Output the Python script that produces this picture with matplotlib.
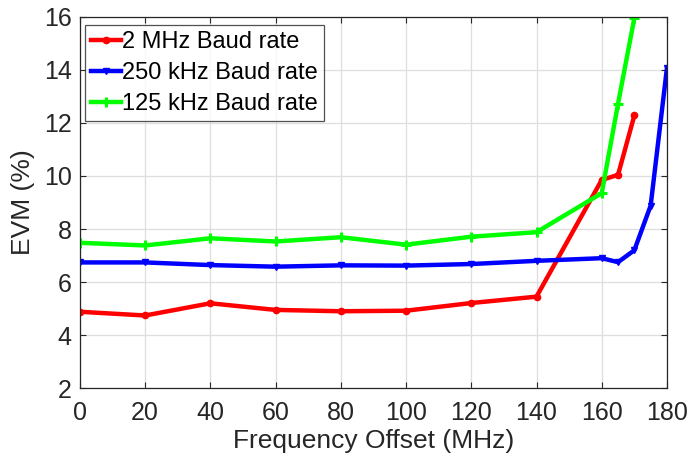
import matplotlib
matplotlib.use("Agg")
import matplotlib.pyplot as plt

plt.rcParams['font.family'] = ['Liberation Sans', 'DejaVu Sans']

# Frequency offsets (MHz) for each measurement series
x_2mhz = [0, 20, 40, 60, 80, 100, 120, 140, 160, 165, 170]
evm_2mhz = [4.88, 4.74, 5.2, 4.95, 4.9, 4.92, 5.21, 5.45, 9.85, 10.04, 12.28]

x_250k = [0, 20, 40, 60, 80, 100, 120, 140, 160, 165, 170, 175, 180]
evm_250k = [6.74, 6.74, 6.64, 6.58, 6.63, 6.62, 6.68, 6.8, 6.9, 6.75, 7.2, 8.88, 14.07]

x_125k = [0, 20, 40, 60, 80, 100, 120, 140, 160, 165, 170]
evm_125k = [7.48, 7.38, 7.65, 7.53, 7.69, 7.41, 7.71, 7.88, 9.35, 12.72, 15.95]

labels = ['2 MHz Baud rate', '250 kHz Baud rate', '125 kHz Baud rate']
xticks = list(range(0, 181, 20))
yticks = list(range(2, 17, 2))

text_color = '#262626'

fig = plt.figure(figsize=(6.89, 4.66), dpi=100)
ax = fig.add_axes([0.116, 0.167, 0.852, 0.797])

ax.plot(x_2mhz, evm_2mhz, color='#ff0000', lw=3.2, marker='o', ms=4.5, label=labels[0])
ax.plot(x_250k, evm_250k, color='#0000ff', lw=3.2, marker='v', ms=4.5, label=labels[1])
ax.plot(x_125k, evm_125k, color='#00ff00', lw=3.2, marker='+', ms=6.5, mew=2.2, label=labels[2])

ax.set_xlim(0, 180)
ax.set_ylim(2, 16)
ax.set_xticks(xticks)
ax.set_yticks(yticks)
ax.grid(True, color='#dedede', lw=0.9)
ax.set_axisbelow(True)

ax.tick_params(direction='in', top=True, right=True, labelsize=18,
               colors=text_color, length=4, width=0.8)
ax.tick_params(axis='x', pad=9)
ax.tick_params(axis='y', pad=6)
for s in ax.spines.values():
    s.set_color(text_color)
    s.set_linewidth(0.9)

ax.set_xlabel('Frequency Offset (MHz)', fontsize=19, color=text_color, labelpad=3)
ax.set_ylabel('EVM (%)', fontsize=19, color=text_color, labelpad=6)

leg = ax.legend(loc='upper left', bbox_to_anchor=(0.008, 0.978), fontsize=17,
                frameon=True, fancybox=False, edgecolor=text_color,
                handlelength=1.3, handletextpad=0.05, borderpad=0.25,
                labelspacing=0.38, borderaxespad=0)
leg.get_frame().set_linewidth(0.9)

fig.savefig('out.png', dpi=100)
